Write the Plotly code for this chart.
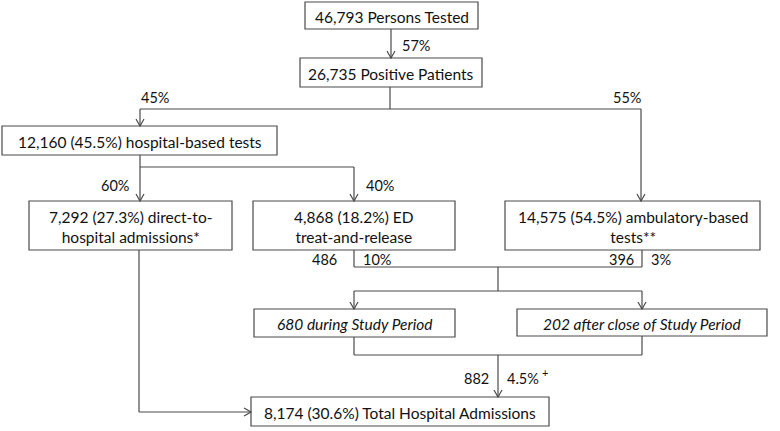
import plotly.graph_objects as go

# ---- data ----
node_counts = ["46,793", "26,735", "12,160", "7,292", "4,868", "14,575", "680", "202", "8,174"]
node_shares = [None, None, "45.5%", "27.3%", "18.2%", "54.5%", None, None, "30.6%"]
node_names = ["Persons Tested", "Positive Patients", "hospital-based tests",
              "direct-to-<br>hospital admissions*", "ED<br>treat-and-release",
              "ambulatory-based<br>tests**", "during Study Period",
              "after close of Study Period", "Total Hospital Admissions"]
node_italic = [False, False, False, False, False, False, True, True, False]

edge_pcts = ["57%", "45%", "55%", "60%", "40%", "10%", "3%", "4.5%"]
edge_counts = ["486", "396", "882"]

# ---- layout geometry (pixels) ----
boxes = [(305, 2, 478, 29), (300, 58, 482, 87), (2, 126, 277, 155),
         (29, 201, 232, 250), (253, 201, 455, 250), (505, 201, 760, 250),
         (254, 309, 455, 337), (517, 309, 767, 336), (251, 397, 549, 426)]

LINE = "#4a4a4a"
FONT = "Lato"
TXT = "#111111"

fig = go.Figure()
shapes = []
annotations = []

def label(i):
    s = node_counts[i]
    if node_shares[i]:
        s += " (" + node_shares[i] + ")"
    s += " " + node_names[i]
    if node_italic[i]:
        s = "<i>" + s + "</i>"
    return s

for i, (x0, y0, x1, y1) in enumerate(boxes):
    shapes.append(dict(type="rect", xref="x", yref="y", x0=x0, y0=y0, x1=x1, y1=y1,
                       line=dict(color=LINE, width=1.2), fillcolor="white", layer="below"))
    annotations.append(dict(x=(x0 + x1) / 2, y=(y0 + y1) / 2 + 1, xref="x", yref="y",
                            text=label(i), showarrow=False,
                            font=dict(family=FONT, size=15.5, color=TXT)))

def seg(xa, ya, xb, yb):
    shapes.append(dict(type="line", xref="x", yref="y", x0=xa, y0=ya, x1=xb, y1=yb,
                       line=dict(color=LINE, width=1.2)))

def arrow_down(x, ya, yb):
    seg(x, ya, x, yb)
    shapes.append(dict(type="path", xref="x", yref="y",
                       path=f"M{x-4},{yb-7} L{x},{yb} L{x+4},{yb-7}",
                       line=dict(color=LINE, width=1.2)))

def arrow_right(xa, xb, y):
    seg(xa, y, xb, y)
    shapes.append(dict(type="path", xref="x", yref="y",
                       path=f"M{xb-7},{y-4} L{xb},{y} L{xb-7},{y+4}",
                       line=dict(color=LINE, width=1.2)))

def txt(x, y, s, anchor, size=14.5):
    annotations.append(dict(x=x, y=y, xref="x", yref="y", text=s, showarrow=False,
                            xanchor=anchor, font=dict(family=FONT, size=size, color=TXT)))

# persons tested -> positive
arrow_down(391, 29, 58)
txt(400, 45, edge_pcts[0], "left")
# positive -> split
seg(390, 87, 390, 109)
seg(140, 109, 641, 109)
arrow_down(140, 109, 126)
arrow_down(641, 109, 201)
txt(155, 97, edge_pcts[1], "center")
txt(643, 97, edge_pcts[2], "right")
# hospital-based -> split
seg(140, 155, 140, 167)
seg(140, 167, 354, 167)
arrow_down(140, 167, 201)
arrow_down(354, 167, 201)
txt(131, 185, edge_pcts[3], "right")
txt(364, 185, edge_pcts[4], "left")
# ED + ambulatory -> merge
seg(354, 250, 354, 267)
seg(642, 250, 642, 267)
seg(354, 267, 642, 267)
txt(339, 259, edge_counts[0], "right")
txt(361, 259, edge_pcts[5], "left")
txt(636, 259, edge_counts[1], "right")
txt(649, 259, edge_pcts[6], "left")
# split to study period
seg(498, 267, 498, 291)
seg(354, 291, 642, 291)
arrow_down(354, 291, 309)
arrow_down(642, 291, 309)
# merge to total
seg(354, 337, 354, 355)
seg(642, 336, 642, 355)
seg(354, 355, 642, 355)
arrow_down(498, 355, 397)
txt(491, 378, edge_counts[2], "right")
txt(505, 378, edge_pcts[7], "left")
txt(540, 372, "+", "left", size=11)
# direct admissions -> total
seg(139, 250, 139, 412)
arrow_right(139, 251, 412)

fig.update_layout(
    width=780, height=431, margin=dict(l=0, r=0, t=0, b=0),
    paper_bgcolor="white", plot_bgcolor="white",
    xaxis=dict(range=[0, 780], visible=False, fixedrange=True),
    yaxis=dict(range=[431, 0], visible=False, fixedrange=True),
    shapes=shapes, annotations=annotations, showlegend=False,
)
fig.write_html("out.html", config={"displayModeBar": False},
               post_script="document.body.style.margin='0';document.body.style.overflow='hidden';")
